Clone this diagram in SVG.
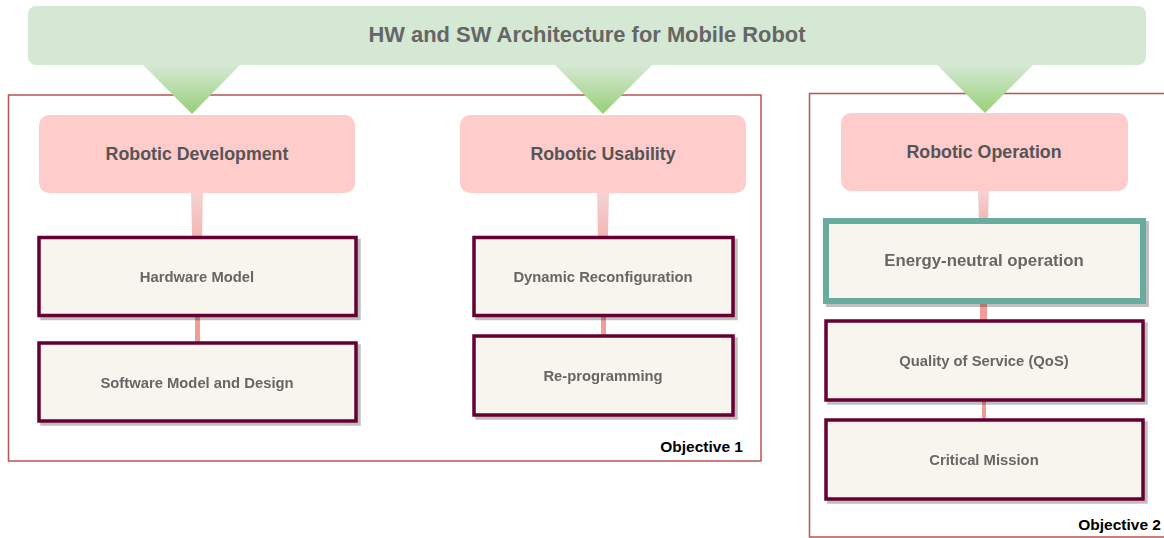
<svg xmlns="http://www.w3.org/2000/svg" width="1164" height="538" viewBox="0 0 1164 538">
<defs>
<linearGradient id="tri" x1="0" y1="0" x2="0" y2="1">
<stop offset="0" stop-color="#d5e8d4"/>
<stop offset="1" stop-color="#97d077"/>
</linearGradient>
<linearGradient id="con" x1="0" y1="0" x2="0" y2="1">
<stop offset="0" stop-color="#f5d3d3"/>
<stop offset="1" stop-color="#f3b5b5"/>
</linearGradient>
<filter id="sh" x="-5%" y="-5%" width="112%" height="120%">
<feOffset in="SourceAlpha" dx="3" dy="3" result="o"/>
<feColorMatrix in="o" type="matrix" values="0 0 0 0 0  0 0 0 0 0  0 0 0 0 0  0 0 0 0.25 0" result="c"/>
<feMerge><feMergeNode in="c"/><feMergeNode in="SourceGraphic"/></feMerge>
</filter>
</defs>
<style>
.frame{fill:none;stroke:#b85450;stroke-width:1.5}
.pink{fill:#ffcccc}
.ptxt{font-family:"Liberation Sans",Arial,sans-serif;font-weight:bold;font-size:17.8px;fill:#555555;text-anchor:middle}
.box{fill:#f8f5ee;stroke:#660033;stroke-width:3.5}
.tbox{fill:#f8f5ee;stroke:#67ab9f;stroke-width:6}
.btxt{font-family:"Liberation Sans",Arial,sans-serif;font-weight:bold;font-size:14.8px;fill:#666666;text-anchor:middle}
.big{font-size:16.8px}
.obj{font-family:"Liberation Sans",Arial,sans-serif;font-weight:bold;font-size:15.5px;fill:#000000;text-anchor:end}
.link{fill:#f19c99}
</style>
<g id="frames">
<rect class="frame" x="8.5" y="95" width="752.5" height="366"/>
<rect class="frame" x="809.5" y="93.5" width="360" height="443.5"/>
</g>
<g id="title">
<rect x="28" y="6" width="1118" height="59" rx="8" fill="#d5e8d4"/>
<text x="587" y="42" font-family="'Liberation Sans',Arial,sans-serif" font-weight="bold" font-size="21.9px" fill="#666666" text-anchor="middle">HW and SW Architecture for Mobile Robot</text>
</g>
<g id="arrows">
<polygon points="143,65 240,65 192,114" fill="url(#tri)"/>
<polygon points="555,65 652,65 603,114" fill="url(#tri)"/>
<polygon points="937,65 1033,65 985,113" fill="url(#tri)"/>
</g>
<g id="connectors">
<polygon points="191,193 203,193 202,237 192,237" fill="url(#con)"/>
<rect class="link" x="195" y="316" width="5" height="27"/>
<polygon points="597,193 609,193 608,237 598,237" fill="url(#con)"/>
<rect class="link" x="601" y="316" width="5" height="20"/>
<polygon points="978,191 989,191 988,221 979,221" fill="url(#con)"/>
<rect class="link" x="980" y="301" width="7" height="20"/>
<rect class="link" x="982" y="400" width="4" height="20"/>
</g>
<g id="robotic-development">
<rect class="pink" x="39" y="115" width="316" height="78" rx="10"/>
<text class="ptxt" x="197" y="160">Robotic Development</text>
</g>
<g id="robotic-usability">
<rect class="pink" x="460" y="115" width="286" height="78" rx="10"/>
<text class="ptxt" x="603" y="160">Robotic Usability</text>
</g>
<g id="robotic-operation">
<rect class="pink" x="841" y="113" width="287" height="78" rx="10"/>
<text class="ptxt" x="984" y="158">Robotic Operation</text>
</g>
<g id="hardware-model" filter="url(#sh)">
<rect class="box" x="39" y="237.5" width="317" height="78"/>
<text class="btxt" x="197" y="282">Hardware Model</text>
</g>
<g id="software-model" filter="url(#sh)">
<rect class="box" x="39" y="343" width="317" height="78"/>
<text class="btxt" x="197" y="388">Software Model and Design</text>
</g>
<g id="dynamic-reconfiguration" filter="url(#sh)">
<rect class="box" x="474" y="237.5" width="259" height="78"/>
<text class="btxt" x="603" y="282">Dynamic Reconfiguration</text>
</g>
<g id="re-programming" filter="url(#sh)">
<rect class="box" x="474" y="336" width="259" height="79"/>
<text class="btxt" x="603" y="381">Re-programming</text>
</g>
<g id="energy-neutral" filter="url(#sh)">
<rect class="tbox" x="826" y="221" width="317" height="80"/>
<text class="btxt big" x="984" y="266">Energy-neutral operation</text>
</g>
<g id="qos" filter="url(#sh)">
<rect class="box" x="826" y="321" width="317" height="79"/>
<text class="btxt" x="984" y="366">Quality of Service (QoS)</text>
</g>
<g id="critical-mission" filter="url(#sh)">
<rect class="box" x="826" y="420" width="317" height="79"/>
<text class="btxt" x="984" y="465">Critical Mission</text>
</g>
<g id="labels">
<text class="obj" x="743" y="452">Objective 1</text>
<text class="obj" x="1161" y="530">Objective 2</text>
</g>
</svg>
